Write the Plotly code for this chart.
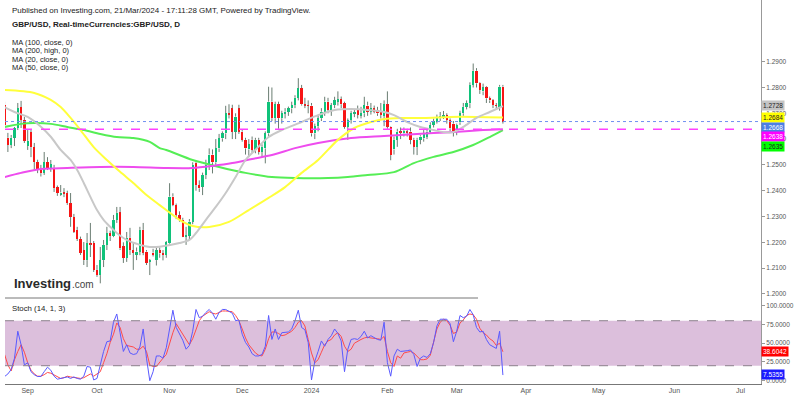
import pandas as pd
import plotly.graph_objects as go

# ---------------- data ----------------
dates = pd.bdate_range("2023-08-23", "2024-03-21")  # 152 daily bars

open_ = [1.2732,1.2605,1.2577,1.2605,1.2643,1.2724,1.2674,1.2573,1.2627,1.2569,
         1.2511,1.2480,1.2470,1.2511,1.2488,1.2488,1.2414,1.2387,1.2393,1.2391,
         1.2352,1.2298,1.2248,1.2213,1.2170,1.2131,1.2197,1.2197,1.2093,1.2073,
         1.2131,1.2190,1.2236,1.2224,1.2287,1.2316,1.2184,1.2139,1.2217,1.2170,
         1.2151,1.2164,1.2248,1.2164,1.2125,1.2160,1.2131,1.2170,1.2157,1.2151,
         1.2196,1.2377,1.2345,1.2306,1.2287,1.2222,1.2225,1.2280,1.2506,1.2422,
         1.2416,1.2461,1.2500,1.2540,1.2510,1.2564,1.2603,1.2622,1.2700,1.2719,
         1.2629,1.2719,1.2629,1.2597,1.2560,1.2597,1.2558,1.2597,1.2550,1.2564,
         1.2622,1.2745,1.2681,1.2735,1.2681,1.2700,1.2706,1.2719,1.2732,1.2760,
         1.2797,1.2735,1.2732,1.2730,1.2622,1.2650,1.2681,1.2706,1.2745,1.2713,
         1.2732,1.2745,1.2755,1.2739,1.2648,1.2674,1.2700,1.2713,1.2693,1.2700,
         1.2730,1.2706,1.2719,1.2713,1.2706,1.2690,1.2735,1.2648,1.2560,1.2597,
         1.2629,1.2622,1.2628,1.2629,1.2597,1.2571,1.2597,1.2603,1.2610,1.2629,
         1.2655,1.2667,1.2681,1.2684,1.2692,1.2674,1.2660,1.2630,1.2665,1.2700,
         1.2725,1.2739,1.2810,1.2865,1.2816,1.2785,1.2800,1.2758,1.2750,1.2732,
         1.2726,1.2803]
high = [1.2745,1.2624,1.2616,1.2647,1.2740,1.2748,1.2686,1.2635,1.2635,1.2585,
        1.2520,1.2500,1.2550,1.2530,1.2519,1.2500,1.2420,1.2422,1.2410,1.2400,
        1.2391,1.2310,1.2260,1.2222,1.2201,1.2236,1.2275,1.2205,1.2112,1.2182,
        1.2209,1.2260,1.2245,1.2306,1.2337,1.2337,1.2200,1.2240,1.2256,1.2200,
        1.2180,1.2260,1.2275,1.2170,1.2135,1.2175,1.2180,1.2180,1.2170,1.2205,
        1.2429,1.2390,1.2350,1.2320,1.2295,1.2260,1.2290,1.2510,1.2510,1.2440,
        1.2470,1.2520,1.2564,1.2560,1.2600,1.2620,1.2630,1.2729,1.2735,1.2733,
        1.2700,1.2733,1.2635,1.2605,1.2600,1.2610,1.2605,1.2605,1.2580,1.2630,
        1.2803,1.2800,1.2745,1.2745,1.2710,1.2720,1.2726,1.2745,1.2770,1.2836,
        1.2810,1.2760,1.2750,1.2740,1.2660,1.2690,1.2720,1.2764,1.2760,1.2740,
        1.2764,1.2785,1.2765,1.2745,1.2680,1.2710,1.2715,1.2730,1.2725,1.2764,
        1.2745,1.2740,1.2730,1.2725,1.2740,1.2750,1.2785,1.2650,1.2610,1.2640,
        1.2645,1.2645,1.2640,1.2645,1.2605,1.2605,1.2615,1.2635,1.2640,1.2665,
        1.2680,1.2695,1.2705,1.2709,1.2700,1.2680,1.2670,1.2660,1.2710,1.2740,
        1.2750,1.2820,1.2893,1.2875,1.2820,1.2815,1.2805,1.2765,1.2755,1.2740,
        1.2810,1.2810]
low = [1.2645,1.2550,1.2565,1.2573,1.2635,1.2643,1.2585,1.2558,1.2530,1.2480,
       1.2468,1.2455,1.2461,1.2480,1.2473,1.2395,1.2380,1.2380,1.2375,1.2345,
       1.2260,1.2236,1.2205,1.2151,1.2112,1.2104,1.2143,1.2085,1.2066,1.2041,
       1.2104,1.2170,1.2205,1.2220,1.2275,1.2170,1.2120,1.2124,1.2151,1.2093,
       1.2131,1.2150,1.2150,1.2112,1.2073,1.2145,1.2110,1.2140,1.2130,1.2140,
       1.2190,1.2340,1.2290,1.2280,1.2220,1.2190,1.2210,1.2270,1.2400,1.2395,
       1.2383,1.2445,1.2480,1.2467,1.2500,1.2550,1.2590,1.2600,1.2680,1.2600,
       1.2600,1.2620,1.2590,1.2540,1.2530,1.2545,1.2545,1.2540,1.2530,1.2506,
       1.2610,1.2670,1.2660,1.2640,1.2660,1.2680,1.2690,1.2700,1.2720,1.2750,
       1.2730,1.2720,1.2700,1.2610,1.2600,1.2630,1.2670,1.2690,1.2700,1.2690,
       1.2720,1.2730,1.2720,1.2640,1.2597,1.2660,1.2685,1.2680,1.2680,1.2685,
       1.2690,1.2695,1.2700,1.2690,1.2680,1.2650,1.2640,1.2518,1.2540,1.2570,
       1.2600,1.2610,1.2610,1.2580,1.2540,1.2538,1.2580,1.2590,1.2600,1.2620,
       1.2645,1.2660,1.2670,1.2678,1.2660,1.2630,1.2610,1.2615,1.2655,1.2690,
       1.2715,1.2720,1.2800,1.2800,1.2775,1.2770,1.2740,1.2740,1.2720,1.2715,
       1.2710,1.2660]
close = [1.2654,1.2577,1.2605,1.2643,1.2720,1.2674,1.2593,1.2593,1.2569,1.2511,
         1.2480,1.2468,1.2511,1.2488,1.2503,1.2410,1.2391,1.2393,1.2388,1.2352,
         1.2298,1.2240,1.2213,1.2159,1.2131,1.2197,1.2193,1.2093,1.2073,1.2131,
         1.2190,1.2236,1.2224,1.2287,1.2314,1.2177,1.2139,1.2217,1.2170,1.2160,
         1.2164,1.2248,1.2160,1.2120,1.2131,1.2151,1.2170,1.2157,1.2151,1.2200,
         1.2377,1.2345,1.2306,1.2287,1.2222,1.2227,1.2280,1.2500,1.2422,1.2409,
         1.2461,1.2500,1.2540,1.2510,1.2564,1.2603,1.2622,1.2700,1.2695,1.2629,
         1.2687,1.2629,1.2597,1.2564,1.2580,1.2558,1.2597,1.2550,1.2570,1.2622,
         1.2745,1.2681,1.2735,1.2681,1.2700,1.2706,1.2719,1.2732,1.2760,1.2797,
         1.2735,1.2731,1.2729,1.2622,1.2650,1.2681,1.2706,1.2745,1.2713,1.2732,
         1.2750,1.2755,1.2735,1.2648,1.2674,1.2700,1.2703,1.2695,1.2700,1.2732,
         1.2706,1.2719,1.2706,1.2700,1.2695,1.2735,1.2648,1.2538,1.2597,1.2629,
         1.2625,1.2632,1.2625,1.2597,1.2571,1.2597,1.2610,1.2622,1.2629,1.2655,
         1.2670,1.2683,1.2690,1.2692,1.2674,1.2642,1.2630,1.2655,1.2700,1.2725,
         1.2740,1.2810,1.2865,1.2816,1.2790,1.2800,1.2758,1.2750,1.2732,1.2729,
         1.2803,1.2668]

# Moving averages, read at selected bars (bar number, value)
ma20_bar = [0,3,7,11,14,17,20,22,24,26,28,30,32,34,37,41,44,47,53,56,58,61,64,67,70,73,
            76,80,84,90,95,100,105,110,115,118,122,126,130,133,136,139,143,147,151]
ma20_val = [1.2724,1.2705,1.2686,1.2648,1.2609,1.2558,1.2519,1.2480,1.2430,1.2376,1.2325,
            1.2287,1.2260,1.2236,1.2209,1.2190,1.2182,1.2183,1.2197,1.2209,1.2236,1.2287,
            1.2337,1.2391,1.2453,1.2519,1.2558,1.2608,1.2635,1.2666,1.2693,1.2713,1.2717,
            1.2713,1.2705,1.2693,1.2666,1.2647,1.2635,1.2627,1.2627,1.2647,1.2682,1.2705,1.2728]
ma50_bar = [0,9,14,17,20,23,27,31,35,39,43,47,51,53,57,62,68,74,80,85,90,95,101,106,111,
            115,120,127,135,143,151]
ma50_val = [1.2790,1.2779,1.2752,1.2724,1.2682,1.2635,1.2569,1.2519,1.2473,1.2430,1.2383,
            1.2344,1.2306,1.2287,1.2263,1.2259,1.2279,1.2325,1.2372,1.2414,1.2469,1.2519,
            1.2597,1.2643,1.2666,1.2678,1.2682,1.2682,1.2686,1.2686,1.2684]
ma100_bar = [0,5,9,14,19,24,29,34,39,44,47,49,57,65,73,81,88,98,104,110,118,124,130,136,142,147,151]
ma100_val = [1.2647,1.2659,1.2662,1.2659,1.2647,1.2635,1.2620,1.2608,1.2604,1.2589,1.2565,
             1.2558,1.2519,1.2492,1.2469,1.2453,1.2449,1.2449,1.2453,1.2461,1.2472,1.2507,
             1.2531,1.2550,1.2577,1.2608,1.2635]
ma200_bar = [0,5,11,19,29,39,49,57,63,69,75,81,88,95,105,115,125,135,145,151]
ma200_val = [1.2453,1.2469,1.2484,1.2488,1.2492,1.2492,1.2488,1.2488,1.2496,1.2507,1.2523,
             1.2538,1.2565,1.2585,1.2604,1.2612,1.2620,1.2627,1.2635,1.2638]

# Stochastic (14, 1, 3)
stoch_k = [5.6,9,15,30,66,48,21,24,12,8,
           5.6,5.6,12,18,14,6,2,3,3,5,
           3,5,3,2,6,19,18,1,3,21,
           39,52,53,78,89,64,39,48,37,35,
           36,45,69,30,0,12,33,33,30,44,
           69,94,71,62,54,42,47,66,95,84,
           86,91,95,90,82,91,95,95,93,90,
           80,81,62,51,45,36,33,33,35,46,
           87,55,69,55,64,64,65,69,80,94,
           71,68,51,1,26,39,53,46,55,60,
           69,63,53,12,42,55,56,55,59,66,
           57,60,57,55,54,78,24,6,33,42,
           39,39,40,41,35,19,30,33,31,36,
           51,73,82,82,82,76,52,66,87,84,
           86,95,88,71,65,66,55,48,46,43,
           66,7.5355]
stoch_d = [35,21,13,28,39,48,38,24,14,9,
           6,6,8,11,10,8,5,3,4,6,
           5,4,4,3,4,6,9,6,9,12,
           24,36,51,62,77,71,56,47,46,45,
           42,42,46,39,21,19,19,25,30,35,
           51,64,76,69,61,54,48,56,69,80,
           86,89,92,90,89,91,93,93,93,92,
           87,80,69,57,48,42,37,34,33,42,
           56,65,65,63,60,61,63,66,71,78,
           80,73,55,37,24,28,38,48,53,55,
           61,64,59,46,39,42,50,53,55,57,
           58,57,57,56,55,59,39,24,19,33,
           30,37,38,39,37,32,28,28,29,34,
           51,69,78,82,80,74,63,65,77,81,
           87,89,88,82,70,64,61,56,53,47,
           50,38.6042]

month_ticks = ["2023-09-01", "2023-10-02", "2023-11-01", "2023-12-01", "2024-01-01", "2024-02-01",
               "2024-03-01", "2024-04-01", "2024-05-01", "2024-06-03", "2024-07-01"]
month_labels = ["Sep", "Oct", "Nov", "Dec", "2024", "Feb", "Mar", "Apr", "May", "Jun", "Jul"]
price_ticks = [1.20, 1.21, 1.22, 1.23, 1.24, 1.25, 1.26, 1.27, 1.28, 1.29]
stoch_ticks = [0, 25, 50, 75, 100]

# ---------------- figure ----------------
FONT = "Liberation Sans, Arial, sans-serif"
UP, DOWN, WICK = "#10c27a", "#f71515", "#6a7d72"

xs = [d + pd.Timedelta(hours=12) for d in dates]

fig = go.Figure()

# candle bodies
fig.add_trace(go.Bar(
    x=xs, y=[abs(c - o) for o, c in zip(open_, close)],
    base=[min(o, c) for o, c in zip(open_, close)],
    marker=dict(color=[UP if c >= o else DOWN for o, c in zip(open_, close)], line=dict(width=0)),
    width=0.72 * 86400000, yaxis="y", hoverinfo="skip"))

# wicks (upper and lower parts, so they do not cross the bodies)
wx, wy = [], []
for xi, o, h, l, c in zip(xs, open_, high, low, close):
    wx += [xi, xi, None, xi, xi, None]
    wy += [max(o, c), h, None, l, min(o, c), None]
fig.add_trace(go.Scatter(x=wx, y=wy, mode="lines", line=dict(color=WICK, width=1),
                         yaxis="y", hoverinfo="skip", connectgaps=False))

# moving averages
for bars, vals, col in [(ma100_bar, ma100_val, "#55ee55"), (ma200_bar, ma200_val, "#ee4cee"),
                        (ma50_bar, ma50_val, "#ffff3c"), (ma20_bar, ma20_val, "#c8c8c8")]:
    fig.add_trace(go.Scatter(x=[xs[i] for i in bars], y=vals, mode="lines",
                             line=dict(color=col, width=2, shape="spline", smoothing=0.8),
                             yaxis="y", hoverinfo="skip"))

# stochastic
fig.add_trace(go.Scatter(x=xs, y=stoch_d, mode="lines", line=dict(color="#ff4a4a", width=1),
                         yaxis="y2", hoverinfo="skip"))
fig.add_trace(go.Scatter(x=xs, y=stoch_k, mode="lines", line=dict(color="#5a5aff", width=1),
                         yaxis="y2", hoverinfo="skip"))

# ---------------- layout ----------------
L, R, B = 5, 761, 384  # plot area in pixels


def px(x):
    return (x - L) / (R - L)


def py(y):
    return (B - y) / B


split = py(298)

axis_style = dict(side="right", ticks="outside", ticklen=3, tickcolor="#999", showline=True,
                  linecolor="#999", linewidth=1, showgrid=False, zeroline=False,
                  tickfont=dict(size=6.5, color="#555", family=FONT), tickformat=".4f")

shapes = [
    dict(type="rect", xref="paper", x0=0, x1=1, yref="y2", y0=20, y1=80,
         fillcolor="#dcbfdc", line=dict(width=0), layer="below"),
    dict(type="line", xref="paper", x0=0, x1=1, yref="y2", y0=80, y1=80,
         line=dict(color="#8c808c", width=1, dash="dash")),
    dict(type="line", xref="paper", x0=0, x1=1, yref="y2", y0=20, y1=20,
         line=dict(color="#8c808c", width=1, dash="dash")),
    dict(type="line", xref="paper", x0=0, x1=px(478), yref="paper", y0=split, y1=split,
         line=dict(color="#777", width=1)),
    dict(type="line", xref="paper", x0=0, x1=1, yref="y", y0=close[-1], y1=close[-1],
         line=dict(color="#6f8ff0", width=1, dash="dot")),
    dict(type="line", xref="paper", x0=0, x1=1, yref="y", y0=ma200_val[-1], y1=ma200_val[-1],
         line=dict(color="#ff40ff", width=1.5, dash="dash")),
]

annotations = []


def text(x, y, t, size, color="#222", **kw):
    annotations.append(dict(xref="paper", yref="paper", x=px(x), y=py(y), text=t, showarrow=False,
                            xanchor="left", yanchor="middle",
                            font=dict(size=size, color=color, family=FONT), **kw))


text(10, 10.7, "Published on Investing.com, 21/Mar/2024 - 17:11:28 GMT, Powered by TradingView.", 8)
text(10, 25, "<b>GBP/USD, Real-timeCurrencies:GBP/USD, D</b>", 8)
for yy, t in zip([42.3, 50.7, 59, 67.3],
                 ["MA (100, close, 0)", "MA (200, high, 0)", "MA (20, close, 0)", "MA (50, close, 0)"]):
    text(10, yy, t, 7.5)
text(10, 308.3, "Stoch (14, 1, 3)", 7.8)
text(12, 283, "<b>Investing</b>", 13, color="#2a2a2a")
text(69.5, 284.5, ".com", 10, color="#444")


def label(y, value, fmt, bg, fg):
    annotations.append(dict(xref="paper", yref="paper", x=1, y=py(y), text=fmt.format(value),
                            showarrow=False, xanchor="left", yanchor="middle", bgcolor=bg,
                            borderpad=1, font=dict(size=6.5, color=fg, family=FONT)))


label(105.7, ma20_val[-1], "{:.4f}", "#c4c4c4", "#222")
label(117.4, ma50_val[-1], "{:.4f}", "#ffff00", "#222")
label(127.3, close[-1], "{:.4f}", "#4d7fe3", "#fff")
label(136.7, ma200_val[-1], "{:.4f}", "#ff00ff", "#fff")
label(146.7, ma100_val[-1], "{:.4f}", "#00ff00", "#222")
label(351.7, stoch_d[-1], "{:.4f}", "#ff0000", "#fff")
label(374.3, stoch_k[-1], "{:.4f}", "#1a1aff", "#fff")

fig.update_layout(
    width=800, height=399,
    margin=dict(l=L, r=800 - R, t=0, b=399 - B),
    paper_bgcolor="white", plot_bgcolor="white",
    showlegend=False, hovermode=False, bargap=0,
    font=dict(family=FONT),
    xaxis=dict(type="date", anchor="y2", domain=[0, 1],
               range=["2023-08-23 15:00", "2024-07-09 17:00"],
               rangebreaks=[dict(bounds=["sat", "mon"])],
               tickvals=[pd.Timestamp(m) + pd.Timedelta(hours=12) for m in month_ticks],
               ticktext=month_labels, ticks="", showgrid=False, zeroline=False,
               showline=True, linecolor="#777", linewidth=1,
               tickfont=dict(size=7, color="#555", family=FONT)),
    yaxis=dict(domain=[split, 1], range=[1.19841, 1.31391], tickvals=price_ticks,
               anchor="x", **axis_style),
    yaxis2=dict(domain=[0, split], range=[-4.4, 110.3], tickvals=stoch_ticks,
                anchor="x", **axis_style),
    shapes=shapes, annotations=annotations,
)

fig.write_html("out.html", config={"displayModeBar": False},
               post_script="document.body.style.margin='0';document.body.style.overflow='hidden';")
